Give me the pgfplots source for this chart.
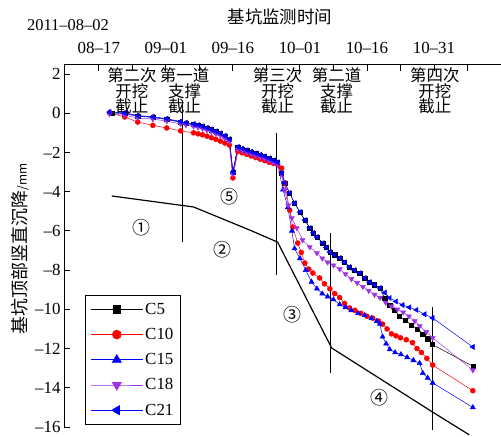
\documentclass[border=0pt]{standalone}
\usepackage{fontspec}
\setmainfont{Liberation Serif}
\newfontfamily\cjk{Noto Sans CJK SC}
\usepackage{pgfplots}
\pgfplotsset{compat=1.18}
\definecolor{cpur}{RGB}{160,50,230}
\begin{document}
\begin{tikzpicture}
\begin{axis}[
  scale only axis, width=437bp, height=362bp,
  xmin=7.2, xmax=105, ymin=-16, ymax=2.46,
  axis x line=top, axis y line=left,
  axis line style={-, line width=1pt},
  tick align=inside,
  xtick={15,30,45,60,75,90},
  xticklabels={08–17,09–01,09–16,10–01,10–16,10–31},
  minor xtick={22.5,37.5,52.5,67.5,82.5,97.5},
  ytick={-16,-14,-12,-10,-8,-6,-4,-2,0,2},
  yticklabels={–16,–14,–12,–10,–8,–6,–4,–2,0,2},
  major tick length=6bp, minor tick length=6bp,
  every tick/.style={black, line width=0.9pt},
  ticklabel style={font=\fontsize{17}{17}\selectfont},
  xticklabel shift=8bp,
  clip=false,
  legend style={at={(0.048,0.0055)}, anchor=south west, draw=black, line width=0.9pt,
    font=\fontsize{17}{17}\selectfont, row sep=8.5bp, inner xsep=5bp, inner ysep=6bp},
  legend cell align=left,
  legend image code/.code={\draw[mark repeat=2, mark phase=2, #1, line width=0.8pt, every mark/.append style={scale=1.75}] plot coordinates {(0bp,0bp) (26bp,0bp) (52bp,0bp)};},
]
\coordinate (bl) at (rel axis cs:0,0);
\coordinate (tr) at (rel axis cs:1,1);

% C5
\addplot[black, line width=0.5pt, mark=square*, mark size=2.1pt] coordinates {
(17.9,0.01)(20.8,0.0)(23.7,-0.14)(27.1,-0.2)(30.2,-0.3)(33.3,-0.45)(34.5,-0.5)(36.2,-0.57)
(37.2,-0.62)(38.2,-0.68)(39.2,-0.76)(40.2,-0.84)(41.2,-0.94)(42.2,-1.04)(43.2,-1.17)(44.2,-1.34)
(45.0,-3.0)(46.1,-1.74)(47.1,-1.82)(48.1,-1.9)(49.1,-1.98)(50.1,-2.06)(51.1,-2.14)(52.1,-2.22)
(53.1,-2.32)(54.1,-2.42)(55.0,-2.52)(55.9,-3.05)(56.6,-3.56)(57.7,-4.07)(58.8,-4.58)(60.0,-5.04)
(61.1,-5.45)(62.2,-5.85)(63.0,-6.1)(63.8,-6.31)(65.1,-6.62)(65.9,-6.85)(66.7,-7.08)(67.8,-7.22)
(68.9,-7.38)(70.0,-7.6)(71.1,-7.84)(72.2,-8.0)(73.4,-8.15)(74.5,-8.4)(75.6,-8.61)(76.7,-8.75)
(77.9,-8.91)(79.0,-9.45)(80.1,-9.8)(81.2,-10.05)(82.3,-10.35)(83.6,-10.55)(85.0,-10.8)
(86.3,-11.0)(87.5,-11.25)(88.6,-11.5)(89.7,-11.8)(98.7,-12.9)};
\addlegendentry{C5}
% C10
\addplot[red, line width=0.5pt, mark=*, mark size=2.5pt] coordinates {
(17.4,0.02)(20.8,-0.19)(23.7,-0.45)(27.1,-0.62)(30.2,-0.75)(33.3,-0.9)(36.2,-1.0)
(37.2,-1.05)(38.2,-1.1)(39.2,-1.17)(40.2,-1.25)(41.2,-1.33)(42.2,-1.42)(43.2,-1.52)(44.2,-1.62)
(45.0,-3.3)(46.1,-1.95)(47.1,-2.02)(48.1,-2.1)(49.1,-2.18)(50.1,-2.26)(51.1,-2.34)(52.1,-2.42)
(53.1,-2.5)(54.1,-2.56)(55.0,-2.62)(55.9,-2.8)(56.6,-3.56)(57.7,-4.94)(58.4,-5.8)(59.5,-6.62)
(60.3,-7.1)(61.1,-7.64)(62.0,-7.95)(62.9,-8.15)(64.4,-8.4)(65.5,-8.7)(66.7,-8.95)(67.8,-9.2)
(68.9,-9.4)(70.0,-9.7)(71.1,-9.93)(72.3,-10.05)(73.6,-10.2)(75.0,-10.35)(76.3,-10.45)(77.6,-10.6)
(78.5,-10.75)(79.5,-11.0)(80.5,-11.25)(81.5,-11.35)(82.5,-11.45)(83.8,-11.55)(85.2,-11.7)
(86.2,-12.0)(87.2,-12.2)(88.4,-12.5)(89.7,-12.84)(98.7,-14.15)};
\addlegendentry{C10}
% C15
\addplot[blue, line width=0.5pt, mark=triangle*, mark size=2.9pt] coordinates {
(17.4,0.04)(20.8,-0.02)(23.7,-0.15)(27.1,-0.22)(30.2,-0.32)(33.3,-0.46)(34.5,-0.52)(36.2,-0.6)
(37.2,-0.65)(38.2,-0.71)(39.2,-0.79)(40.2,-0.87)(41.2,-0.97)(42.2,-1.07)(43.2,-1.2)(44.2,-1.37)
(45.0,-3.05)(46.1,-1.77)(47.1,-1.85)(48.1,-1.93)(49.1,-2.01)(50.1,-2.09)(51.1,-2.17)(52.1,-2.25)
(53.1,-2.35)(54.1,-2.45)(55.0,-2.55)(56.2,-3.9)(57.3,-4.8)(58.2,-6.0)(58.8,-6.9)(60.0,-7.4)
(61.3,-8.0)(62.6,-8.6)(63.8,-8.95)(65.0,-9.2)(66.2,-9.35)(67.5,-9.5)(68.9,-9.75)(70.2,-9.9)
(71.5,-10.05)(73.0,-10.2)(74.5,-10.3)(76.0,-10.45)(77.2,-10.6)(77.9,-10.75)(78.5,-11.4)
(79.3,-11.75)(80.1,-12.05)(81.3,-12.2)(82.6,-12.3)(84.0,-12.45)(85.4,-12.6)(86.8,-12.75)
(87.5,-13.25)(88.6,-13.5)(89.7,-13.75)(98.7,-15.0)};
\addlegendentry{C15}
% C18
\addplot[cpur, line width=0.5pt, mark=triangle*, mark size=2.9pt, mark options={rotate=180}] coordinates {
(17.4,-0.04)(20.8,-0.1)(23.7,-0.24)(27.1,-0.3)(30.2,-0.4)(33.3,-0.55)(34.5,-0.6)(36.2,-0.67)
(37.2,-0.72)(38.2,-0.78)(39.2,-0.86)(40.2,-0.94)(41.2,-1.04)(42.2,-1.14)(43.2,-1.27)(44.2,-1.44)
(45.0,-3.1)(46.1,-1.84)(47.1,-1.92)(48.1,-2.0)(49.1,-2.08)(50.1,-2.16)(51.1,-2.24)(52.1,-2.32)
(53.1,-2.42)(54.1,-2.52)(55.0,-2.6)(55.9,-3.1)(56.6,-3.92)(57.4,-4.7)(58.2,-5.34)(59.3,-5.85)
(60.6,-6.47)(62.2,-6.82)(63.8,-7.13)(65.0,-7.4)(66.2,-7.6)(67.5,-7.75)(68.9,-7.95)(70.2,-8.2)
(71.5,-8.45)(72.8,-8.65)(74.1,-8.85)(75.4,-9.05)(76.7,-9.25)(77.9,-9.4)(79.2,-9.65)(80.5,-9.85)
(81.8,-10.0)(83.1,-10.15)(84.4,-10.35)(85.7,-10.6)(86.8,-10.85)(88.3,-11.15)(89.7,-11.45)(98.7,-13.1)};
\addlegendentry{C18}
% C21
\addplot[blue, line width=0.5pt, mark=triangle*, mark size=2.9pt, mark options={rotate=90}] coordinates {
(17.4,0.06)(20.8,0.02)(23.7,-0.12)(27.1,-0.18)(30.2,-0.28)(33.3,-0.42)(34.5,-0.48)(36.2,-0.55)
(37.2,-0.6)(38.2,-0.66)(39.2,-0.74)(40.2,-0.82)(41.2,-0.92)(42.2,-1.02)(43.2,-1.15)(44.2,-1.32)
(45.0,-3.0)(46.1,-1.72)(47.1,-1.8)(48.1,-1.88)(49.1,-1.96)(50.1,-2.04)(51.1,-2.12)(52.1,-2.2)
(53.1,-2.3)(54.1,-2.4)(55.0,-2.5)(55.9,-3.05)(56.6,-3.56)(57.7,-4.07)(58.8,-4.58)(60.0,-5.04)
(61.1,-5.45)(62.2,-5.85)(63.0,-6.1)(63.8,-6.31)(65.1,-6.62)(65.9,-6.85)(66.7,-7.08)(67.8,-7.22)
(68.9,-7.38)(70.0,-7.6)(71.1,-7.84)(72.2,-8.0)(73.4,-8.15)(74.5,-8.4)(75.6,-8.61)(76.7,-8.75)
(77.9,-8.91)(79.0,-9.15)(80.1,-9.42)(81.5,-9.6)(83.0,-9.78)(84.5,-9.9)(86.1,-10.03)(87.9,-10.25)
(89.7,-10.44)(98.7,-11.92)};
\addlegendentry{C21}

% boundary line
\addplot[black, line width=1.2pt, forget plot] coordinates {
(17.9,-4.22)(36.2,-4.78)(48.8,-5.96)(55.0,-6.57)(67.1,-11.97)(89.7,-15.24)(97.9,-16.4)};
% milestone lines
\addplot[black, line width=1.2pt, forget plot] coordinates {(33.8,0.6)(33.8,-6.55)};
\addplot[black, line width=1.2pt, forget plot] coordinates {(54.8,-1.0)(54.8,-8.25)};
\addplot[black, line width=1.2pt, forget plot] coordinates {(66.9,-6.1)(66.9,-13.25)};
\addplot[black, line width=1.2pt, forget plot] coordinates {(89.7,-9.88)(89.7,-16.15)};

% annotations
\tikzset{ann/.style={anchor=north, align=center, inner sep=0pt, font=\cjk\fontsize{16.5}{15.5}\selectfont}}
\node[ann] at (axis cs:22.4,2.33) {第二次\\开挖\\截止};
\node[ann] at (axis cs:34.2,2.33) {第一道\\支撑\\截止};
\node[ann] at (axis cs:55.0,2.33) {第三次\\开挖\\截止};
\node[ann] at (axis cs:68.2,2.33) {第二道\\支撑\\截止};
\node[ann] at (axis cs:90.2,2.33) {第四次\\开挖\\截止};

\tikzset{circ/.style={font=\cjk\fontsize{18}{18}\selectfont, inner sep=0pt}}
\node[circ] at (axis cs:24.6,-5.85) {①};
\node[circ] at (axis cs:42.7,-6.97) {②};
\node[circ] at (axis cs:58.4,-10.29) {③};
\node[circ] at (axis cs:77.9,-14.52) {④};
\node[circ] at (axis cs:44.3,-4.27) {⑤};

\node[font=\fontsize{16.5}{16.5}\selectfont] at (rel axis cs:0.009,1.1105) {2011–08–02};
\node[font=\cjk\fontsize{17.5}{17.5}\selectfont] at (rel axis cs:0.494,1.1326) {基坑监测时间};
\node[rotate=90, font=\cjk\fontsize{18}{18}\selectfont] at (rel axis cs:-0.1007,0.492) {基坑顶部竖直沉降{\fontsize{12}{12}\selectfont/mm}};
\end{axis}
\pgfresetboundingbox
\path[use as bounding box] ([shift={(-64bp,-10bp)}]bl) rectangle ([shift={(0bp,65bp)}]tr);
\end{tikzpicture}
\end{document}
